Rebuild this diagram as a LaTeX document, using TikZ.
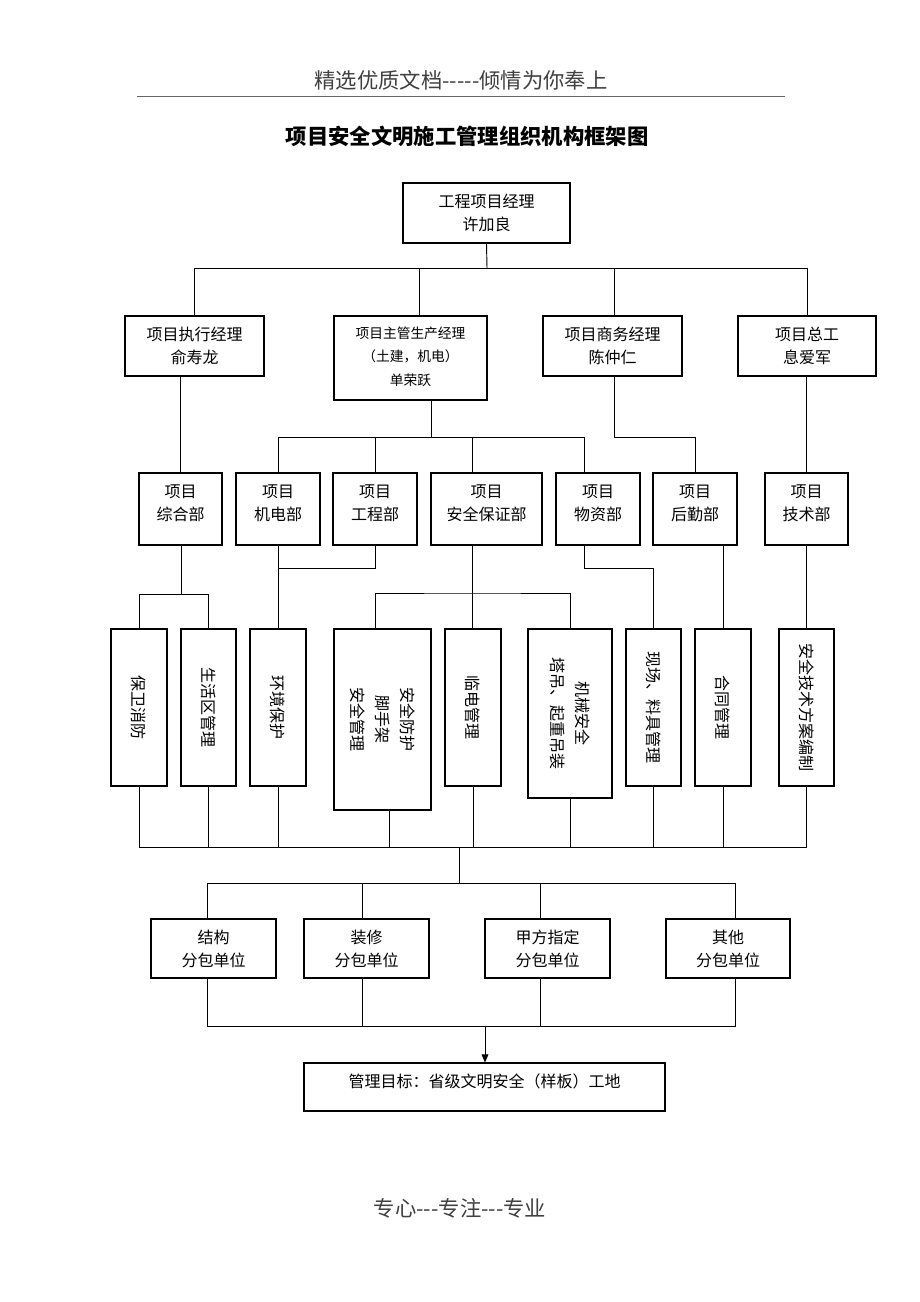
\documentclass[tikz,border=0pt]{standalone}
\usepackage{fontspec}
\newfontfamily\cjk{Noto Sans CJK SC}
\usetikzlibrary{arrows.meta}
\newcommand\mybox[5]{\node[box, minimum width={(#4-#2)*0.75pt}, minimum height={(#5-#3)*0.75pt}] (#1) at ({(#2+#4)/2},{(#3+#5)/2}) {};}
\begin{document}
\cjk
\begin{tikzpicture}[x=0.75pt,y=-0.75pt,
  box/.style={draw, line width=0.8pt, inner sep=0pt},
  ln/.style={line width=0.7pt},
  txt/.style={font=\cjk\fontsize{12}{17.25}\selectfont, align=center, inner sep=0pt},
  stxt/.style={font=\cjk\fontsize{10.3}{17.6}\selectfont, align=center, inner sep=0pt},
  vtxt/.style={font=\cjk\fontsize{12}{18.75}\selectfont, align=center, rotate=-90, inner sep=0pt},
  arr/.style={ln, -{Triangle[length=6pt,width=5pt]}}]
\fill[white] (0,0) rectangle (920,1302);
\useasboundingbox (0,0) rectangle (920,1302);

% header, title, footer
\node[font=\cjk\fontsize{16}{19}\selectfont, text=black!75, inner sep=0pt] (hdr) at (461,80) {精选优质文档-----倾情为你奉上};
\draw[black!60, line width=0.6pt] (137,96) -- (785,96);
\node[font=\cjk\bfseries\fontsize{16}{20}\selectfont, inner sep=0pt] (title) at (467,136) {项目安全文明施工管理组织机构框架图};
\node[font=\cjk\fontsize{16}{19}\selectfont, text=black!75, inner sep=0pt] (ftr) at (460,1208) {专心---专注---专业};

% boxes
\mybox{top}{403}{183}{570}{243}
\mybox{e1}{125}{316}{264}{376}
\mybox{e2}{334}{316}{487}{400}
\mybox{e3}{543}{316}{682}{376}
\mybox{e4}{738}{316}{876}{376}

\mybox{d1}{139}{473}{222}{545}
\mybox{d2}{236}{473}{320}{545}
\mybox{d3}{333}{473}{417}{545}
\mybox{d4}{431}{473}{542}{545}
\mybox{d5}{556}{473}{640}{545}
\mybox{d6}{653}{473}{737}{545}
\mybox{d7}{765}{473}{848}{545}

\mybox{f1}{111}{629}{167}{786}
\mybox{f2}{181}{629}{236}{786}
\mybox{f3}{250}{629}{306}{786}
\mybox{f4}{334}{629}{431}{810}
\mybox{f5}{445}{629}{501}{786}
\mybox{f6}{528}{629}{612}{798}
\mybox{f7}{626}{629}{681}{786}
\mybox{f8}{695}{629}{751}{786}
\mybox{f9}{779}{629}{834}{786}

\mybox{g1}{151}{919}{276}{978}
\mybox{g2}{304}{919}{429}{978}
\mybox{g3}{485}{919}{610}{978}
\mybox{g4}{666}{919}{790}{978}

\mybox{goal}{304}{1063}{665}{1111}

% texts
\node[txt] (ttop) at (top.center) {工程项目经理\\许加良};
\node[txt] (te1) at (e1.center) {项目执行经理\\俞寿龙};
\node[stxt] (te2) at ([yshift=1pt]e2.center) {项目主管生产经理\\（土建，机电）\\单荣跃};
\node[txt] (te3) at (e3.center) {项目商务经理\\陈仲仁};
\node[txt] (te4) at (e4.center) {项目总工\\息爱军};

\node[txt] (td1) at ([yshift=4.5pt]d1.center) {项目\\综合部};
\node[txt] (td2) at ([yshift=4.5pt]d2.center) {项目\\机电部};
\node[txt] (td3) at ([yshift=4.5pt]d3.center) {项目\\工程部};
\node[txt] (td4) at ([yshift=4.5pt]d4.center) {项目\\安全保证部};
\node[txt] (td5) at ([yshift=4.5pt]d5.center) {项目\\物资部};
\node[txt] (td6) at ([yshift=4.5pt]d6.center) {项目\\后勤部};
\node[txt] (td7) at ([yshift=4.5pt]d7.center) {项目\\技术部};

\node[vtxt] (tf1) at (f1.center) {保卫消防};
\node[vtxt] (tf2) at (f2.center) {生活区管理};
\node[vtxt] (tf3) at (f3.center) {环境保护};
\node[vtxt] (tf4) at (f4.center) {安全防护\\脚手架\\安全管理};
\node[vtxt] (tf5) at (f5.center) {临电管理};
\node[vtxt] (tf6) at (f6.center) {机械安全\\塔吊、起重吊装};
\node[vtxt] (tf7) at (f7.center) {现场、料具管理};
\node[vtxt] (tf8) at (f8.center) {合同管理};
\node[vtxt] (tf9) at (f9.center) {安全技术方案编制};

\node[txt] (tg1) at (g1.center) {结构\\分包单位};
\node[txt] (tg2) at (g2.center) {装修\\分包单位};
\node[txt] (tg3) at (g3.center) {甲方指定\\分包单位};
\node[txt] (tg4) at (g4.center) {其他\\分包单位};
\node[txt] (tgoal) at ([yshift=4.5pt]goal.center) {管理目标：省级文明安全（样板）工地};

% column coordinates
\coordinate (x419) at (419,0);
\coordinate (x614) at (614,0);
\coordinate (x472) at (472,0);
\coordinate (x584) at (584,0);
\coordinate (x375) at (375,0);
\coordinate (x389) at (389,0);
\coordinate (x207) at (207,0);
\coordinate (x362) at (362,0);
\coordinate (x540) at (540,0);
\coordinate (x735) at (735,0);

% level 1 -> 2
\coordinate (b1) at (487,268);
\draw[ln] (top.south) -- (b1);
\draw[ln] (e1.north) |- (b1);
\draw[ln] (e4.north) |- (b1);
\draw[ln] (e2.north -| x419) -- (x419 |- b1);
\draw[ln] (e3.north -| x614) -- (x614 |- b1);

% level 2 -> 3
\draw[ln] (e1.south -| d1.north) -- (d1.north);
\coordinate (b2) at (431,437);
\draw[ln] (e2.south -| b2) -- (b2);
\draw[ln] (d2.north) |- (b2);
\draw[ln] (d3.north) -- (d3.north |- b2);
\draw[ln] (d4.north -| x472) -- (x472 |- b2);
\draw[ln] (d5.north -| x584) |- (b2);
\coordinate (b3) at (614,437);
\draw[ln] (e3.south -| b3) -- (b3) -| (d6.north);
\draw[ln] (e4.south -| d7.north) -- (d7.north);

% level 3 -> 4
\coordinate (b4) at (181,594);
\draw[ln] (d1.south -| b4) -- (b4);
\draw[ln] (f1.north) |- (b4);
\draw[ln] (f2.north) |- (b4);
\draw[ln] (d2.south) -- (f3.north);
\coordinate (b5) at (278,568);
\draw[ln] (d3.south) |- (b5);
\coordinate (b6) at (472,593);
\draw[ln] (d4.south -| b6) -- (f5.north -| b6);
\draw[ln] (f4.north -| x375) |- (b6) -| (f6.north);
\coordinate (b7) at (584,568);
\draw[ln] (d5.south -| b7) -- (b7) -| (f7.north);
\draw[ln] (d6.south -| f8.north) -- (f8.north);
\draw[ln] (d7.south) -- (f9.north);

% level 4 -> 5
\coordinate (b8) at (459,847);
\draw[ln] (f1.south) |- (b8);
\draw[ln] (f2.south) |- (b8);
\draw[ln] (f3.south) |- (b8);
\draw[ln] (f4.south -| x389) |- (b8);
\draw[ln] (f5.south) |- (b8);
\draw[ln] (f6.south) |- (b8);
\draw[ln] (f7.south) |- (b8);
\draw[ln] (f8.south) |- (b8);
\draw[ln] (f9.south) |- (b8);
\coordinate (b9) at (459,883);
\draw[ln] (b8) -- (b9);
\draw[ln] (g1.north -| x207) |- (b9);
\draw[ln] (g2.north -| x362) |- (b9);
\draw[ln] (g3.north -| x540) |- (b9);
\draw[ln] (g4.north -| x735) |- (b9);

% level 5 -> goal
\coordinate (b10) at (485,1026);
\draw[ln] (g1.south -| x207) |- (b10);
\draw[ln] (g2.south -| x362) |- (b10);
\draw[ln] (g3.south -| x540) |- (b10);
\draw[ln] (g4.south -| x735) |- (b10);
\draw[arr] (b10) -- (goal.north -| b10);
\end{tikzpicture}
\end{document}
